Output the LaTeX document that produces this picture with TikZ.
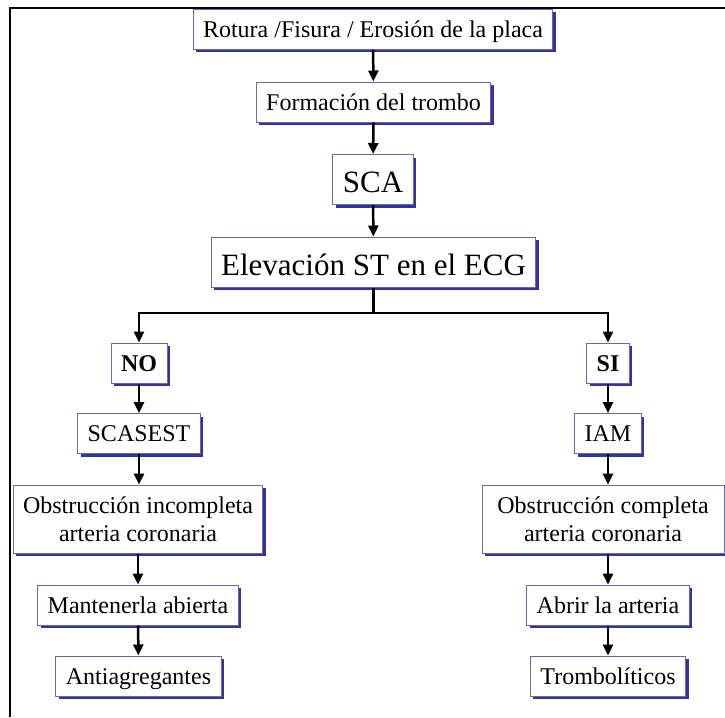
\documentclass[tikz,border=0pt]{standalone}
\usepackage{fontspec}
\setmainfont{Liberation Serif}
\usetikzlibrary{arrows.meta,shadows}
\definecolor{boxline}{HTML}{6868B0}
\definecolor{boxshadow}{HTML}{333399}
\tikzset{
  box/.style={draw=boxline, line width=1pt, fill=white, inner xsep=10pt, inner ysep=0pt,
    minimum height=40pt, align=center, font=\fontsize{24}{28}\selectfont,
    text height=18pt, text depth=2pt,
    drop shadow={shadow xshift=3pt, shadow yshift=-3pt, fill=boxshadow, opacity=1}},
  bigbox/.style={box, minimum height=50pt, font=\fontsize{31}{34}\selectfont,
    text height=26pt, text depth=0pt},
  twobox/.style={box, minimum height=68pt, text height=, text depth=},
  flecha/.style={->, line width=2.5pt},
}
\begin{document}
\begin{tikzpicture}[x=1pt, y=-1pt, >={Triangle[width=10pt,length=11pt]}]
        \useasboundingbox (0,0) rectangle (725,717);
        \draw [line width=2.5pt] (725,8)--(10,8)--(10,717);
        % tronco comun
        \node[box] (rotura) at (373,29.5) {Rotura /Fisura / Erosión de la placa};
        \node[box] (trombo) at (373.5,102) {Formación del trombo};
        \node[bigbox] (sca) at (373,179.5) {SCA};
        \node[bigbox] (elev) at (373.5,262) {Elevación ST en el ECG};
        % rama izquierda
        \node[box] (no) at (139,363) {\textbf{NO}};
        \node[box] (scasest) at (139,433.5) {SCASEST};
        \node[twobox] (incomp) at (138,519) {Obstrucción incompleta\\arteria coronaria};
        \node[box] (mantener) at (138,605) {Mantenerla abierta};
        \node[box] (antiag) at (138.5,676) {Antiagregantes};
        % rama derecha
        \node[box] (si) at (608,363) {\textbf{SI}};
        \node[box] (iam) at (608,433.5) {IAM};
        \node[twobox, minimum width=242pt] (comp) at (603,519) {Obstrucción completa\\arteria coronaria};
        \node[box] (abrir) at (608,605) {Abrir la arteria};
        \node[box] (trombol) at (608,676) {Trombolíticos};
        \coordinate (split) at (373.5,313);
        \draw [flecha] (rotura)--(trombo);
        \draw [flecha] (trombo)--(sca);
        \draw [flecha] (sca)--(elev);
        \draw [line width=2.5pt] (elev.south)--(split);
        \draw [flecha] (split)-|(no.north);
        \draw [flecha] (split)-|(si.north);
        \draw [flecha] (no)--(scasest);
        \draw [flecha] (scasest.south)--(scasest.south|-incomp.north);
        \draw [flecha] (incomp.south-|mantener)--(mantener.north);
        \draw [flecha] (mantener)--(antiag);
        \draw [flecha] (si)--(iam);
        \draw [flecha] (iam.south)--(iam.south|-comp.north);
        \draw [flecha] (iam.south|-comp.south)--(abrir.north);
        \draw [flecha] (abrir)--(trombol);
    \end{tikzpicture}
\end{document}
